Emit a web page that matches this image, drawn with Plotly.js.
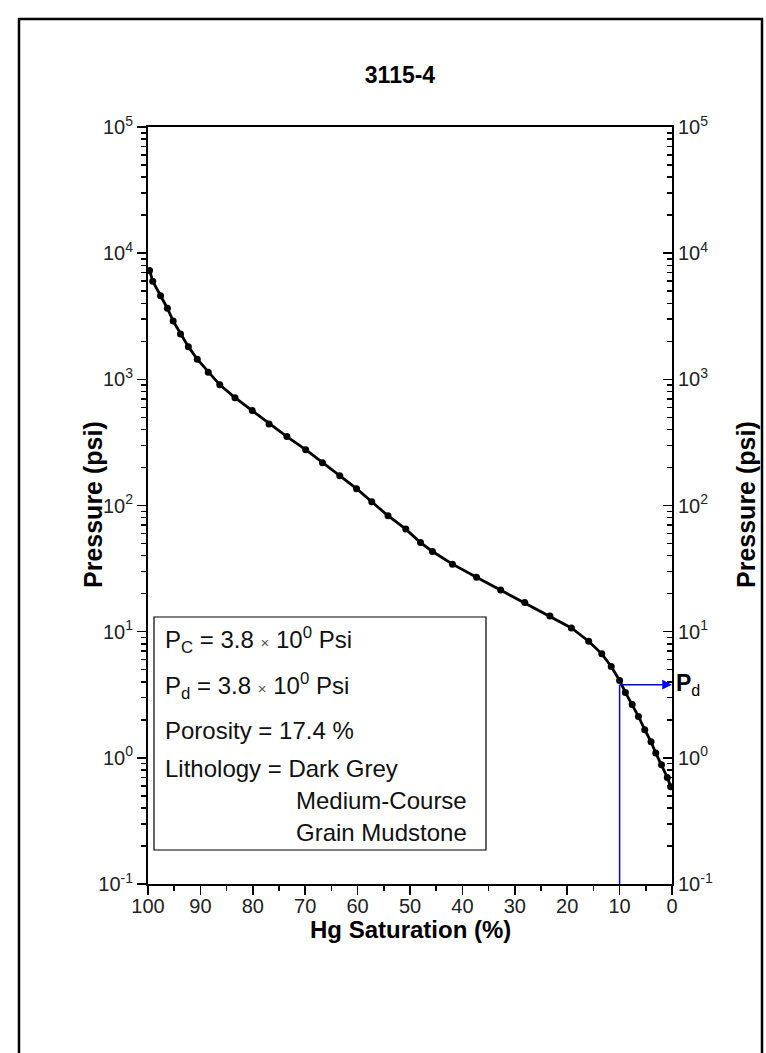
<!DOCTYPE html>
<html>
<head>
<meta charset="utf-8">
<script src="https://cdn.plot.ly/plotly-3.0.1.min.js"></script>
<style>
  html, body { margin: 0; padding: 0; background: #fff; }
  #chart { width: 766px; height: 1053px; }
</style>
</head>
<body>
<div id="chart"></div>
<script>
// ---- data ----
const chartTitle = '3115-4';
const saturation = [99.7, 99.1, 97.6, 96.3, 95.2, 93.8, 92.3, 90.6, 88.5, 86.3, 83.4, 80.1, 76.9, 73.5,
  69.9, 66.7, 63.4, 60.2, 57.3, 54.2, 50.8, 48.0, 45.7, 41.9, 37.3, 32.7, 28.1, 23.3, 19.2, 15.9,
  13.4, 11.6, 10.0, 8.9, 7.6, 6.4, 5.2, 4.0, 3.1, 2.0, 0.9, 0.25];
const pressure = [7300, 6000, 4600, 3660, 2900, 2290, 1815, 1443, 1137, 904, 716, 565, 443, 352,
  277, 218, 172, 136, 107, 83, 65, 50.8, 43.2, 34.3, 27.0, 21.4, 17.0, 13.3, 10.7, 8.4,
  6.67, 5.30, 4.10, 3.30, 2.65, 2.13, 1.67, 1.34, 1.09, 0.88, 0.70, 0.59];
const pdSaturation = 10;      // % Hg saturation at displacement pressure
const pdPressure = 3.8;       // psi
const xTickVals = [100, 90, 80, 70, 60, 50, 40, 30, 20, 10, 0];
const yTickVals = [0.1, 1, 10, 100, 1000, 10000, 100000];
const yTickText = ['10<sup>-1</sup>', '10<sup>0</sup>', '10<sup>1</sup>', '10<sup>2</sup>', '10<sup>3</sup>', '10<sup>4</sup>', '10<sup>5</sup>'];
const infoLines = [
  'P<sub>C</sub> = 3.8 <span style="font-size:15px;color:#555">×</span> 10<sup>0</sup> Psi',
  'P<sub>d</sub> = 3.8 <span style="font-size:15px;color:#555">×</span> 10<sup>0</sup> Psi',
  'Porosity = 17.4 %',
  'Lithology = Dark Grey',
  'Medium-Course',
  'Grain Mudstone'
];

// ---- layout helpers (pixel -> paper) ----
const W = 766, H = 1053;
const L = 148, R = 672, T = 127, B = 884;
const px = v => (v - L) / (R - L);
const py = v => (B - v) / (B - T);
const FONT = 'Liberation Sans, Arial, sans-serif';

const curve = {
  x: saturation, y: pressure, type: 'scatter', mode: 'lines+markers',
  line: { color: '#000', width: 2.8 },
  marker: { color: '#000', size: 7 },
  hoverinfo: 'x+y', showlegend: false
};
const pdLine = {
  x: [pdSaturation, pdSaturation], y: [0.1, pdPressure], type: 'scatter', mode: 'lines',
  line: { color: '#0000ff', width: 1.5 }, showlegend: false, hoverinfo: 'skip'
};
const rightAxisTrace = {
  x: saturation, y: pressure, yaxis: 'y2', type: 'scatter', mode: 'none',
  showlegend: false, hoverinfo: 'skip'
};

const tickFont = { family: FONT, size: 20, color: '#222' };
const yCommon = {
  type: 'log', range: [-1, 5], tickmode: 'array', tickvals: yTickVals, ticktext: yTickText,
  showline: true, linecolor: '#000', linewidth: 2, showgrid: false, zeroline: false,
  ticklen: 9, tickwidth: 1.5, tickcolor: '#000', tickfont: tickFont, fixedrange: true,
};

const lineYs = [640, 686, 730, 768, 800, 832];
const lineXs = [163, 163, 163, 163, 294, 294];
const annotations = infoLines.map((t, i) => ({
  xref: 'paper', yref: 'paper', x: px(lineXs[i]), y: py(lineYs[i]),
  xanchor: 'left', yanchor: 'middle', showarrow: false, text: t,
  font: { family: FONT, size: 24, color: '#111' }
}));
annotations.push(
  { xref: 'paper', yref: 'paper', x: px(410), y: py(929), xanchor: 'center', yanchor: 'middle',
    showarrow: false, text: '<b>Hg Saturation (%)</b>', font: { family: FONT, size: 24, color: '#000' } },
  { xref: 'paper', yref: 'paper', x: px(93), y: py(505), xanchor: 'center', yanchor: 'middle', textangle: -90,
    showarrow: false, text: '<b>Pressure (psi)</b>', font: { family: FONT, size: 25, color: '#000' } },
  { xref: 'paper', yref: 'paper', x: px(746), y: py(505), xanchor: 'center', yanchor: 'middle', textangle: -90,
    showarrow: false, text: '<b>Pressure (psi)</b>', font: { family: FONT, size: 25, color: '#000' } },
  { xref: 'x', yref: 'y', x: 0, y: Math.log10(pdPressure), axref: 'x', ayref: 'y',
    ax: pdSaturation, ay: Math.log10(pdPressure), showarrow: true, arrowhead: 2, arrowsize: 1.3,
    arrowwidth: 1.5, arrowcolor: '#0000ff', text: '' },
  { xref: 'paper', yref: 'y', x: px(674), y: Math.log10(pdPressure), xanchor: 'left', yanchor: 'middle',
    showarrow: false, text: '<b>P</b><sub>d</sub>', font: { family: FONT, size: 23, color: '#000' } }
);

const shapes = [
  { type: 'rect', xref: 'paper', yref: 'paper', x0: px(154), x1: px(486), y0: py(617), y1: py(850),
    line: { color: '#000', width: 1.2 }, fillcolor: 'rgba(0,0,0,0)' },
  // outer frame of the figure
  { type: 'line', xref: 'paper', yref: 'paper', x0: px(19), x1: px(19), y0: py(18), y1: py(1060),
    line: { color: '#000', width: 2.5 } },
  { type: 'line', xref: 'paper', yref: 'paper', x0: px(18), x1: px(763), y0: py(19), y1: py(19),
    line: { color: '#000', width: 2.5 } },
  { type: 'line', xref: 'paper', yref: 'paper', x0: px(762), x1: px(762), y0: py(18), y1: py(1060),
    line: { color: '#000', width: 2.5 } }
];

const layout = {
  width: W, height: H,
  margin: { l: L, r: W - R, t: T, b: H - B, pad: 0 },
  paper_bgcolor: '#fff', plot_bgcolor: '#fff',
  font: { family: FONT, color: '#000' },
  title: { text: '<b>' + chartTitle + '</b>', x: 400 / W, xref: 'container', xanchor: 'center',
           y: 1 - 75 / H, yref: 'container', yanchor: 'middle', font: { family: FONT, size: 23, color: '#000' } },
  showlegend: false,
  xaxis: {
    range: [100, 0], tickmode: 'array', tickvals: xTickVals,
    showline: true, linecolor: '#000', linewidth: 2, mirror: true,
    ticks: 'outside', ticklen: 9, tickwidth: 1.5, tickcolor: '#000', ticklabelstandoff: -6,
    minor: { dtick: 5, ticks: 'outside', ticklen: 5, tickwidth: 1.5, tickcolor: '#000' },
    showgrid: false, zeroline: false, tickfont: tickFont, fixedrange: true
  },
  yaxis: Object.assign({}, yCommon, {
    side: 'left', ticks: 'outside',
    minor: { dtick: 'D1', ticks: 'outside', ticklen: 5, tickwidth: 1.5, tickcolor: '#000' }
  }),
  yaxis2: Object.assign({}, yCommon, {
    side: 'right', overlaying: 'y', ticks: 'inside',
    minor: { dtick: 'D1', ticks: 'inside', ticklen: 5, tickwidth: 1.5, tickcolor: '#000' }
  }),
  annotations: annotations,
  shapes: shapes
};

Plotly.newPlot('chart', [pdLine, curve, rightAxisTrace], layout, { staticPlot: true, displayModeBar: false });
</script>
</body>
</html>
